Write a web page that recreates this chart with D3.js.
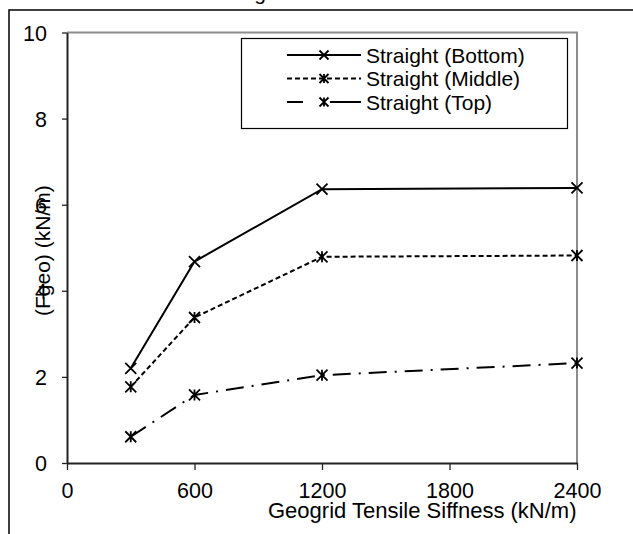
<!DOCTYPE html>
<html>
<head>
<meta charset="utf-8">
<script src="https://cdn.jsdelivr.net/npm/d3@7"></script>
<style>
  body { margin: 0; background: #fff; }
  svg { display: block; font-family: "Liberation Sans", Arial, sans-serif; }
</style>
</head>
<body>
<div class="chart"></div>
<script>
// data
const stiffness = [300, 600, 1200, 2400];
const straightBottom = [2.2, 4.68, 6.36, 6.39];
const straightMiddle = [1.77, 3.38, 4.79, 4.82];
const straightTop = [0.61, 1.58, 2.04, 2.32];
const seriesNames = ["Straight (Bottom)", "Straight (Middle)", "Straight (Top)"];
const xTicks = [0, 600, 1200, 1800, 2400];
const yTicks = [0, 2, 4, 6, 8, 10];
const xTitle = "Geogrid Tensile Siffness (kN/m)";
const yTitle = "(Fgeo) (kN/m)";

const series = [
    { name: seriesNames[0], values: straightBottom, dash: null, legendDash: null, marker: "x" },
    { name: seriesNames[1], values: straightMiddle, dash: "5,3", legendDash: "5,3", marker: "star" },
    { name: seriesNames[2], values: straightTop, dash: "18,8,2,8", legendDash: "16,27,31", marker: "star" }
];

const width = 633, height = 534;
const margin = { top: 32.5, right: 56, bottom: 71, left: 67 };
const w = width - margin.left - margin.right,
      h = height - margin.top - margin.bottom;

const svg = d3.select(".chart")
    .append("svg")
        .attr("width", width)
        .attr("height", height);

// outer frame (only top and left edges visible in the crop)
svg.append("path")
    .attr("d", "M9,534V10H633")
    .attr("fill", "none")
    .attr("stroke", "#000")
    .attr("stroke-width", 1.5);

// title is cut off at the top, only a descender shows
svg.append("text")
    .attr("x", 260)
    .attr("y", -0.5)
    .attr("text-anchor", "middle")
    .attr("font-size", 21)
    .text("g");

const g = svg.append("g")
    .attr("transform", "translate(" + margin.left + "," + margin.top + ")");

const x = d3.scaleLinear().domain([0, 2400]).range([0, w]);
const y = d3.scaleLinear().domain([0, 10]).range([h, 0]);

// plot area top/right border
g.append("path")
    .attr("d", "M0,0H" + w + "V" + h)
    .attr("fill", "none")
    .attr("stroke", "#8c8c8c")
    .attr("stroke-width", 2);

// axes
const xAxis = g.append("g")
    .attr("transform", "translate(0," + h + ")")
    .call(d3.axisBottom(x).tickValues(xTicks).tickFormat(d3.format("d"))
        .tickSize(7).tickSizeOuter(0).tickPadding(13));
const yAxis = g.append("g")
    .call(d3.axisLeft(y).tickValues(yTicks).tickFormat(d3.format("d"))
        .tickSize(5).tickSizeOuter(0).tickPadding(15));

[xAxis, yAxis].forEach(function (a) {
    a.select(".domain").attr("stroke", "#222").attr("stroke-width", 2);
    a.selectAll(".tick line").attr("stroke", "#222").attr("stroke-width", 1.3);
    a.selectAll(".tick text")
        .attr("font-family", "Liberation Sans, Arial, sans-serif")
        .attr("font-size", 21.5)
        .attr("fill", "#000");
});
yAxis.selectAll(".tick text").attr("dy", "0.36em");

// axis titles
svg.append("text")
    .attr("x", 268)
    .attr("y", 518)
    .attr("font-size", 22)
    .text(xTitle);

svg.append("text")
    .attr("transform", "translate(50,316) rotate(-90)")
    .attr("font-size", 21)
    .text(yTitle);

// lines
const line = d3.line()
    .x(function (d, i) { return x(stiffness[i]); })
    .y(function (d) { return y(d); });

function drawMarker(sel, type, size) {
    let p = "M" + (-size) + "," + (-size) + "L" + size + "," + size +
            "M" + (-size) + "," + size + "L" + size + "," + (-size);
    if (type === "star") p += "M0," + (-size) + "L0," + size;
    sel.append("path")
        .attr("d", p)
        .attr("fill", "none")
        .attr("stroke", "#000")
        .attr("stroke-width", 1.8);
}

series.forEach(function (s) {
    g.append("path")
        .datum(s.values)
        .attr("fill", "none")
        .attr("stroke", "#000")
        .attr("stroke-width", 2)
        .attr("stroke-dasharray", s.dash)
        .attr("d", line);

    s.values.forEach(function (v, i) {
        const m = g.append("g")
            .attr("transform", "translate(" + x(stiffness[i]) + "," + y(v) + ")");
        drawMarker(m, s.marker, 5.5);
    });
});

// legend
const legend = svg.append("g");
legend.append("rect")
    .attr("x", 241.5)
    .attr("y", 38.5)
    .attr("width", 326)
    .attr("height", 90)
    .attr("fill", "#fff")
    .attr("stroke", "#000")
    .attr("stroke-width", 1.2);

series.forEach(function (s, i) {
    const ly = 55 + i * 23.5;
    legend.append("line")
        .attr("x1", 287).attr("x2", 361)
        .attr("y1", ly).attr("y2", ly)
        .attr("stroke", "#000")
        .attr("stroke-width", 2)
        .attr("stroke-dasharray", s.legendDash);
    const m = legend.append("g").attr("transform", "translate(324," + ly + ")");
    drawMarker(m, s.marker, 4.5);
    legend.append("text")
        .attr("x", 366)
        .attr("y", ly)
        .attr("dy", "0.36em")
        .attr("font-size", 21)
        .text(s.name);
});
</script>
</body>
</html>
